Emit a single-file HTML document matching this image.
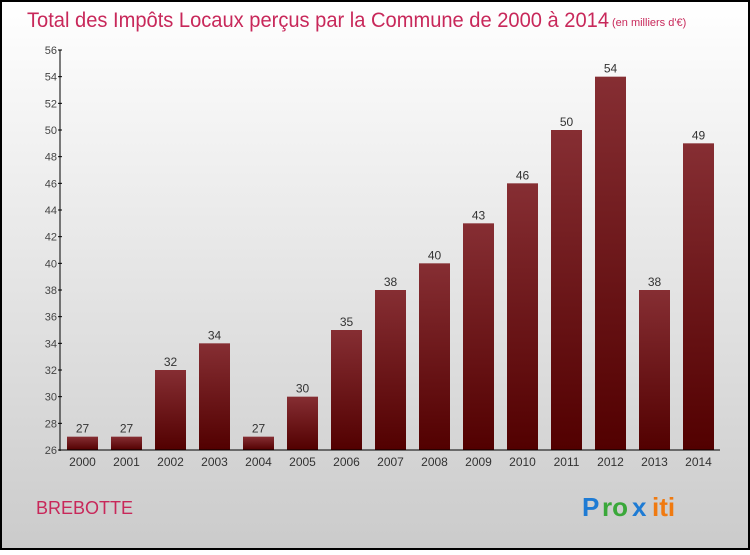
<!DOCTYPE html>
<html><head><meta charset="utf-8"><style>
body{margin:0;width:750px;height:550px;overflow:hidden;font-family:"Liberation Sans",sans-serif}
</style></head><body>
<svg width="750" height="550">
<defs>
<linearGradient id="bg" x1="0" y1="0" x2="0" y2="1"><stop offset="0" stop-color="#ffffff"/><stop offset="1" stop-color="#cbcbcb"/></linearGradient>
<linearGradient id="bar" x1="0" y1="0" x2="0" y2="1"><stop offset="0" stop-color="#862e33"/><stop offset="1" stop-color="#520000"/></linearGradient>
</defs>
<rect x="1" y="1" width="748" height="548" fill="url(#bg)" stroke="#000" stroke-width="2"/>
<text x="27" y="27" font-size="21" fill="#c8285a" textLength="582" lengthAdjust="spacingAndGlyphs">Total des Impôts Locaux perçus par la Commune de 2000 à 2014</text>
<text x="612" y="26" font-size="11" fill="#c8285a">(en milliers d'€)</text>
<g id="yaxis"></g><g id="bars"></g><g id="xaxis"></g>
<text x="36" y="514" font-size="18" fill="#c8285a">BREBOTTE</text>
<g font-size="26" font-weight="bold" font-family="Liberation Sans, sans-serif">
<text x="582" y="516" fill="#1e7bd4">P</text><text x="602" y="516" fill="#3aa83a">ro</text><text x="632" y="516" fill="#1e7bd4">x</text><text x="652" y="516" fill="#f07a10">iti</text>
</g>
</svg>
<script>
const years=["2000","2001","2002","2003","2004","2005","2006","2007","2008","2009","2010","2011","2012","2013","2014"];
const values=[27,27,32,34,27,30,35,38,40,43,46,50,54,38,49];
const yTicks=[26,28,30,32,34,36,38,40,42,44,46,48,50,52,54,56];
const NS="http://www.w3.org/2000/svg";
const y=v=>450-(v-26)*400/30;
const x=i=>82.5+i*44;
function mk(tag,attrs,parent){const e=document.createElementNS(NS,tag);for(const k in attrs)e.setAttribute(k,attrs[k]);parent.appendChild(e);return e;}
const ya=document.getElementById('yaxis'),ba=document.getElementById('bars'),xa=document.getElementById('xaxis');
let l=mk('line',{x1:60,y1:50,x2:60,y2:451,stroke:'#000'},ya);


yTicks.forEach(t=>{
 let tk=mk('line',{x1:58,y1:y(t),x2:62,y2:y(t),stroke:'#000'},ya);
 
 
 let tx=mk('text',{x:57,y:y(t)+4,'font-size':11,fill:'#444','text-anchor':'end'},ya);
 tx.textContent=t;
 
 
});
values.forEach((v,i)=>{
 let r=mk('rect',{x:x(i)-15.5,y:y(v),width:31,height:450-y(v),fill:'url(#bar)'},ba);
 
 
 let t=mk('text',{x:x(i),y:y(v)-4,'font-size':12,fill:'#333','text-anchor':'middle'},ba);
 t.textContent=v;
 
 
 let xl=mk('text',{x:x(i),y:466,'font-size':12,fill:'#333','text-anchor':'middle'},xa);
 xl.textContent=years[i];
 
 
});
let xl=mk('line',{x1:60,y1:450,x2:720,y2:450,stroke:'#000'},xa);


</script>
</body></html>
